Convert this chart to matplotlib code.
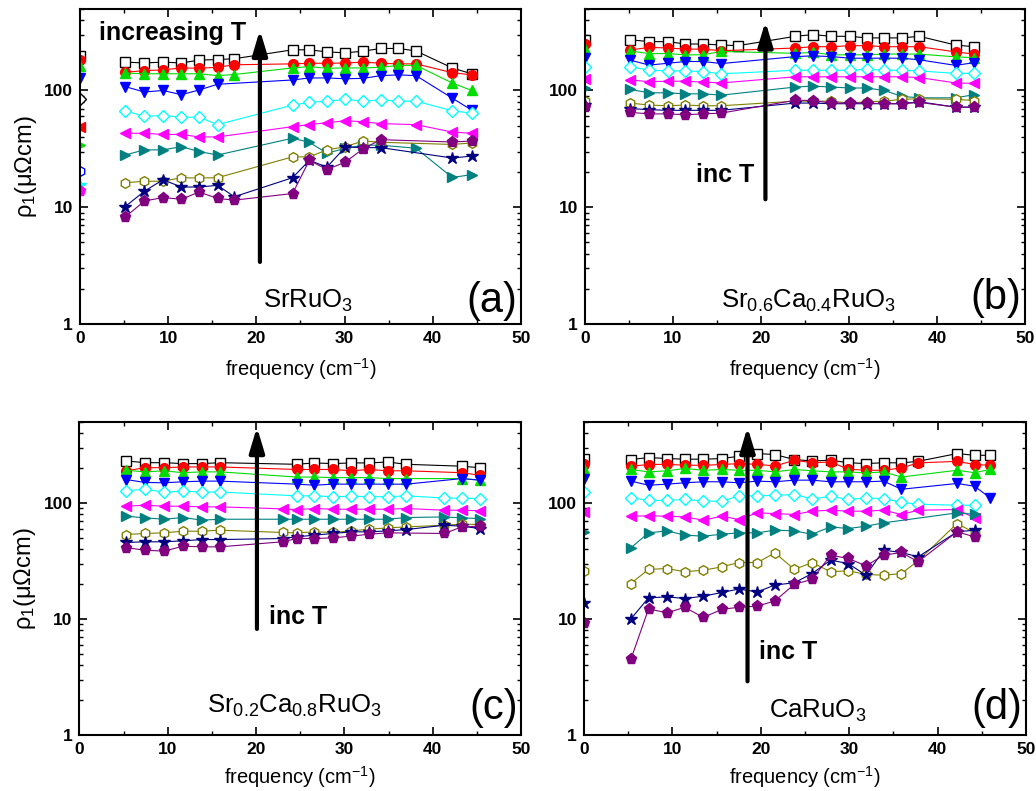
import numpy as np
import matplotlib
matplotlib.use('Agg')
import matplotlib.pyplot as plt
from matplotlib.ticker import MultipleLocator, LogLocator, FuncFormatter, NullFormatter

nan = np.nan

plt.rcParams['font.family'] = ['Liberation Sans', 'DejaVu Sans']
plt.rcParams['font.weight'] = 'bold'
plt.rcParams['mathtext.fontset'] = 'custom'
plt.rcParams['mathtext.rm'] = 'Liberation Sans'
plt.rcParams['mathtext.it'] = 'Liberation Sans:italic'
plt.rcParams['mathtext.bf'] = 'Liberation Sans:bold'
plt.rcParams['mathtext.default'] = 'regular'

# ---- (a) SrRuO3 ----
freq_a = [5.1, 7.3, 9.4, 11.5, 13.5, 15.6, 17.5, 24.1, 26.0, 28.0, 30.1, 32.1, 34.1, 36.1, 38.1, 42.2, 44.4]
a_black = [175, 172, 175, 172, 182, 184, 187, 223, 223, 214, 210, 217, 229, 229, 218, 156, 139]
a_red = [143, 148, 150, 156, 155, 158, 166, 169, 171, 171, 172, 175, 171, 169, 169, 142, 136]
a_green = [141, 139, 139, 139, 139, 134, 137, 156, 160, 155, 156, 156, 158, 164, 164, 116, 100]
a_blue = [108, 97, 100, 92, 101, 113, nan, 123, 128, 128, 126, 127, 134, 136, 134, 86, 68]
a_cyan = [67, 60, 61, 59, 59, 51, nan, 75, 79, 81, 84, 81, 83, 81, 81, 67, 64]
a_magenta = [43, 43, 42, 42, 40, 40, nan, 49, 51, 53, 55, 54, 52, nan, 51, 44, 43]
a_teal = [28, 31, 31, 33, 30, 28, nan, 39, 36, 29, 32, 34, 34, nan, 32, 18, 19]
a_olive = [16.2, 16.7, 16.7, 17.9, 17.8, 17.9, nan, 27, 27, 31, 33, 37, 36, nan, nan, 34.5, 35.5]
a_navy = [10.1, 13.7, 17.2, 14.9, 14.9, 15.4, 12.3, 17.9, 25.2, 22.1, 32.8, 32.4, 32.4, nan, nan, 26.4, 27.4]
a_purple = [8.2, 11.3, 12.1, 11.7, 13.5, 11.9, 11.5, 13.1, 25.2, 21.0, 24.4, 31.7, 37.9, nan, nan, 36.2, 36.9]
a_dc = [196, 181, 161, 127, 84, 49, 34, 20.3, 15.6, 13.7]
a_dc_colors = ['black', 'red', '#00dd00', 'blue', 'black', 'red', '#00dd00', 'blue', 'cyan', 'magenta']

# ---- (b) Sr0.6Ca0.4RuO3 ----
freq_b = [5.1, 7.3, 9.4, 11.4, 13.4, 15.5, 17.4, 23.9, 25.9, 28.0, 30.1, 32.0, 34.0, 36.0, 38.0, 42.1, 44.2]
b_black = [272, 262, 262, 250, 250, 245, 242, 291, 301, 291, 291, 282, 282, 282, 291, 245, 237]
b_red = [222, 234, 231, 226, 226, 219, nan, 231, 237, 237, 242, 242, 237, 237, 237, 214, 205]
b_green = [218, 207, 207, 202, 202, 216, nan, 208, 212, 202, 202, 202, 205, 205, 205, 194, 191]
b_blue = [182, 165, 171, 177, 177, 170, nan, 195, 198, 195, 189, 189, 189, 189, 183, 164, 173]
b_cyan = [160, 149, 147, 147, 145, 139, nan, 149, 149, 149, 149, 152, 149, 149, 147, 140, 140]
b_magenta = [123, 119, 120, 120, 118, 116, nan, 131, 131, 131, 131, 131, 131, 131, 129, 116, 115]
b_teal = [102, 95.5, 95.5, 93.6, 93.6, 91.2, nan, 107, 109, 107, 105, 105, 100, 89, 86.5, 86.5, 92]
b_olive = [78, 75, 74, 75, 74, 74, nan, 81, 81, 81, 78, 80, 81, 84, 85, 84, 82]
b_navy = [70, 68.5, 67.6, 67.6, 67.6, 67.6, nan, 78, 78, 77, 77, 77, 77, 77, 80, 72, 72]
b_purple = [65, 63, 63, 62, 63, 64, nan, 82.5, 82, 78, 78, 78, 77, 77, 79, 72, 72]
b_dc = [270, 250, 226, 191, 159, 126, 104, 81, 75, 72]

# ---- (c) Sr0.2Ca0.8RuO3 ----
freq_c = [5.3, 7.4, 9.6, 11.7, 13.9, 15.9, 23.0, 24.6, 26.6, 28.7, 30.8, 32.8, 34.9, 37.0, 41.3, 43.3, 45.3]
c_black = [230, 222, 222, 218, 218, 222, nan, 215, 221, 218, 221, 221, 225, 215, nan, 207, 201]
c_red = [189, 201, 201, 204, 204, 204, nan, 194, 194, 194, 189, 194, 189, 189, nan, 182, 173]
c_green = [191, 185, 189, 182, 185, 185, nan, 167, 167, 165, 165, 165, 162, 162, nan, 162, 157]
c_blue = [159, 150, 149, 152, 154, 154, nan, 145, 142, 145, 145, 145, 145, 145, nan, 162, 157]
c_cyan = [127, 131, 124, 126, 124, 124, nan, 115, 115, 113, 114, 113, 113, 115, 110, 110, 109]
c_magenta = [93.6, 95.5, 93.6, 93.6, 92.4, 92.4, 88.8, 87.6, 89.4, 88.2, 88.2, 88.2, 88.2, 89.4, 86.5, 86.5, 85.5]
c_teal = [76.8, 74.3, 72.3, 74.8, 71, 72.3, 72.3, 72.3, 72.3, 72.3, 72.3, 72.3, 72.3, 74.8, 75.7, 74.3, 73.3]
c_olive = [53.4, 54.5, 55.2, 57, 57, 58.2, 55.6, 55.2, 56.3, 55.6, 57.4, 59.3, 60.9, 62.1, 64.2, 65.5, 65.1]
c_navy = [45.6, 46.2, 46.2, 47.1, 48.3, 48.3, 49.3, 51, 52.7, 54.5, 56.3, 56.3, 57.4, 58.9, 64.2, 63, 60.1]
c_purple = [41.2, 39.1, 38.4, 42.3, 41.8, 41.8, 46.2, 49.3, 49.3, 50, 51.7, 53.7, 55.2, nan, 54.5, 62.1, 63]

# ---- (d) CaRuO3 ----
freq_d = [5.3, 7.3, 9.4, 11.4, 13.5, 15.6, 17.5, 19.6, 21.6, 23.8, 25.8, 27.9, 29.9, 31.9, 33.9, 35.9, 37.8, 42.2, 44.2, 45.9]
d_black = [236, 246, 241, 238, 238, 241, 252, 266, 261, 236, 230, 233, 222, 218, 222, 221, 228, 266, 257, 257]
d_red = [207, 214, 215, 211, 211, 214, 218, 215, 208, 233, 222, 225, 195, 191, 191, 200, 221, 228, 214, 211]
d_green = [194, 185, 189, 198, 191, 194, 191, 191, 185, 194, 189, 185, 185, 181, 185, 167, nan, 191, 182, 194]
d_blue = [154, 142, 145, 149, 152, 152, 149, 154, 152, 157, 157, 152, 152, 152, 154, 131, nan, 147, 139, 111]
d_cyan = [111, 105, 105, 107, 104, 103, 115, 115, 116, 118, 108, 114, 107, 110, 109, 101, 97.4, 95.5, 95.5, nan]
d_magenta = [76.8, 77.3, 76.8, 75.7, 71, 76.8, 71.9, 82, 80.9, 79.4, 84.8, 86.5, 84.8, 84.8, 86.5, 79.4, 86.5, 87.6, 74.3, nan]
d_teal = [41, 55.2, 57.4, 52.7, 51.7, 53.7, 55.2, 55.2, 58.2, 57.4, 53.7, 62.1, 60.1, 63, 67.3, nan, nan, 82, 79.8, nan]
d_olive = [20.2, 26.7, 27.2, 25.5, 26.3, 28.1, 30.6, 30.6, 37.1, 26.7, 30.6, 25.5, 26, 24.2, 23.8, 24.6, 31.7, 66.4, 55.2, nan]
d_navy = [10, 15.2, 15.5, 15, 15.7, 16.9, 18.1, 17.1, 19.6, 20.5, 24.6, 32.1, 30, 23.8, 39.1, 37.4, 34.3, 56.3, 58.2, nan]
d_purple = [4.48, 12.2, 11.3, 12.6, 10.3, 12.1, 12.6, 12.9, 14.3, 19.9, 21.9, 35.4, 33.2, 28.7, 35.4, 37.4, 31.1, 56.3, 51, nan]
d_dc = [240, 218, 194, 162, 124, 83.7, 56.3, 25.8, 13.8, 9.3]

# marker, colour, open?, size
STYLES = [('s', 'black', True, 6.5),
          ('o', 'red', False, 7),
          ('^', '#00dd00', False, 7.5),
          ('v', 'blue', False, 7.5),
          ('D', 'cyan', True, 6),
          ('<', 'magenta', False, 7.5),
          ('>', '#008080', False, 7.5),
          ('h', '#808000', True, 7),
          ('*', '#000080', False, 9),
          ('p', '#800080', False, 8)]


def draw_panel(ax, freq, series, dc=None, dc_colors=None, xlab_y=-0.103):
    x = np.array(freq)
    for vals, (m, c, op, ms) in zip(series, STYLES):
        y = np.array(vals, dtype=float)
        ok = ~np.isnan(y)
        ax.plot(x[ok], y[ok], '-', color=c, lw=0.8, marker=m, ms=ms,
                mfc='white' if op else c, mec=c, mew=1.0)
    if dc is not None:
        for i, (v, (m, c, op, ms)) in enumerate(zip(dc, STYLES)):
            cc = dc_colors[i] if dc_colors else c
            ax.plot([0], [v], ls='none', marker=m, ms=ms,
                    mfc='white' if op else cc, mec=cc, mew=1.0)

    ax.set_xlim(0, 50)
    ax.set_yscale('log')
    ax.set_ylim(1, 500)
    ax.xaxis.set_major_locator(MultipleLocator(10))
    ax.xaxis.set_minor_locator(MultipleLocator(5))
    ax.yaxis.set_major_locator(LogLocator(base=10, numticks=10))
    ax.yaxis.set_minor_locator(LogLocator(base=10, subs=np.arange(2, 10), numticks=20))
    ax.yaxis.set_major_formatter(FuncFormatter(lambda v, p: '%g' % v))
    ax.yaxis.set_minor_formatter(NullFormatter())
    ax.tick_params(which='both', direction='in', top=True, right=True, labelsize=12.5, pad=5)
    ax.tick_params(which='major', length=6, width=1.2)
    ax.tick_params(which='minor', length=3, width=1.0)
    for sp in ax.spines.values():
        sp.set_linewidth(1.5)
    ax.set_xlabel('frequency (cm$^{-1}$)', fontsize=14.5, fontweight='normal')
    ax.xaxis.set_label_coords(0.5, xlab_y)


def arrow(ax, x, y0, y1):
    ax.annotate('', xy=(x, y1), xytext=(x, y0),
                arrowprops=dict(arrowstyle='-|>,head_length=1.0,head_width=0.3',
                                mutation_scale=15, lw=3, color='black',
                                shrinkA=0, shrinkB=0))


fig = plt.figure(figsize=(10.36, 7.91), dpi=100)
ax_a = fig.add_axes([0.0772, 0.5904, 0.4257, 0.3984])
ax_b = fig.add_axes([0.5647, 0.5904, 0.4247, 0.3984])
ax_c = fig.add_axes([0.0766, 0.0708, 0.4264, 0.3960])
ax_d = fig.add_axes([0.5637, 0.0708, 0.4266, 0.3960])

draw_panel(ax_a, freq_a, [a_black, a_red, a_green, a_blue, a_cyan, a_magenta, a_teal, a_olive, a_navy, a_purple],
           a_dc, a_dc_colors)
draw_panel(ax_b, freq_b, [b_black, b_red, b_green, b_blue, b_cyan, b_magenta, b_teal, b_olive, b_navy, b_purple],
           b_dc)
draw_panel(ax_c, freq_c, [c_black, c_red, c_green, c_blue, c_cyan, c_magenta, c_teal, c_olive, c_navy, c_purple],
           xlab_y=-0.092)
draw_panel(ax_d, freq_d, [d_black, d_red, d_green, d_blue, d_cyan, d_magenta, d_teal, d_olive, d_navy, d_purple],
           d_dc, xlab_y=-0.092)

for ax in (ax_a, ax_c):
    ax.set_ylabel('ρ$_1$(μΩcm)', fontsize=17, fontweight='normal')
    ax.yaxis.set_label_coords(-0.093, 0.5)

# arrows and "increasing T" notes
arrow(ax_a, 20.4, 3.4, 330)
ax_a.text(2.1, 313, 'increasing T', fontsize=18, fontweight='bold', va='center', ha='left')
arrow(ax_b, 20.5, 11.7, 390)
ax_b.text(19.2, 18.8, 'inc T', fontsize=18, fontweight='bold', va='center', ha='right')
arrow(ax_c, 20.1, 8.2, 450)
ax_c.text(21.5, 10.4, 'inc T', fontsize=18, fontweight='bold', va='center', ha='left')
arrow(ax_d, 18.5, 2.9, 450)
ax_d.text(19.8, 5.2, 'inc T', fontsize=18, fontweight='bold', va='center', ha='left')

# compound names
ax_a.text(20.7, 1.37, 'SrRuO$_3$', fontsize=18.5, fontweight='normal', ha='left', va='baseline')
ax_b.text(15.5, 1.37, 'Sr$_{0.6}$Ca$_{0.4}$RuO$_3$', fontsize=18.5, fontweight='normal', ha='left', va='baseline')
ax_c.text(14.4, 1.55, 'Sr$_{0.2}$Ca$_{0.8}$RuO$_3$', fontsize=18.5, fontweight='normal', ha='left', va='baseline')
ax_d.text(20.9, 1.4, 'CaRuO$_3$', fontsize=18.5, fontweight='normal', ha='left', va='baseline')

# panel letters
for ax, lab, yv in ((ax_a, '(a)', 1.57), (ax_b, '(b)', 1.68), (ax_c, '(c)', 1.71), (ax_d, '(d)', 1.71)):
    ax.text(49.6, yv, lab, fontsize=30, fontweight='normal', ha='right', va='center')

fig.savefig('out.png', dpi=100)
